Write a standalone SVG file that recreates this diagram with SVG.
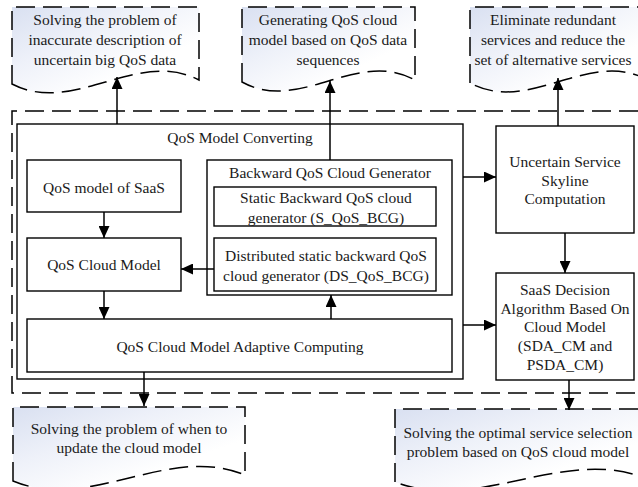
<svg xmlns="http://www.w3.org/2000/svg" width="638" height="487" viewBox="0 0 638 487">
<defs>
<linearGradient id="docfill" x1="0" y1="0" x2="1" y2="1">
<stop offset="0" stop-color="#d9e0f1"/>
<stop offset="0.35" stop-color="#eef1f9"/>
<stop offset="0.7" stop-color="#ffffff"/>
</linearGradient>
<marker id="arr" markerUnits="userSpaceOnUse" markerWidth="12" markerHeight="11" refX="12" refY="5.5" orient="auto">
<path d="M0,0 L12,5.5 L0,11 Z" fill="#000"/>
</marker>
<style>
text{font-family:"Liberation Serif","Times New Roman",serif;font-size:15.5px;fill:#1a1a1a;text-anchor:middle}
.doc{fill:url(#docfill);stroke:#000;stroke-width:1.5;stroke-dasharray:19 8}
.dash{fill:none;stroke:#000;stroke-width:1.5;stroke-dasharray:19 8}
.box{fill:#fff;stroke:#000;stroke-width:1.4}
.con{fill:none;stroke:#000;stroke-width:1.5;marker-end:url(#arr)}
.ln{fill:none;stroke:#000;stroke-width:1.5}
</style>
</defs>
<rect width="638" height="487" fill="#fff"/>

<g id="doc1">
<path class="doc" d="M12,84 V7 H199 V80 C137,48 74,116 12,84 Z"/>
<text x="105" y="25">Solving the problem of</text>
<text x="105" y="45">inaccurate description of</text>
<text x="105" y="65">uncertain big QoS data</text>
</g>
<g id="doc2">
<path class="doc" d="M242,82 V7 H415 V80 C357,48 300,114 242,82 Z"/>
<text x="328" y="25">Generating QoS cloud</text>
<text x="328" y="45">model based on QoS data</text>
<text x="328" y="65">sequences</text>
</g>
<g id="doc3">
<path class="doc" d="M470,83 V7 H648 V80 C589,48 529,115 470,83 Z"/>
<text x="553" y="25">Eliminate redundant</text>
<text x="553" y="45">services and reduce the</text>
<text x="553" y="65">set of alternative services</text>
</g>

<g id="region">
<path class="dash" d="M638,111 H12 V393 H638"/>
</g>

<g id="converting">
<rect class="box" x="17" y="124" width="446" height="255"/>
<text x="240" y="143">QoS Model Converting</text>
</g>
<g id="qos-model-saas">
<rect class="box" x="27" y="160" width="154" height="52"/>
<text x="104" y="193">QoS model of SaaS</text>
</g>
<g id="qos-cloud-model">
<rect class="box" x="27" y="238" width="154" height="53"/>
<text x="104" y="270">QoS Cloud Model</text>
</g>
<g id="backward-generator">
<rect class="box" x="207" y="160" width="245" height="135"/>
<text x="330" y="178">Backward QoS Cloud Generator</text>
</g>
<g id="static-bcg">
<rect class="box" x="214" y="187" width="222" height="39"/>
<text x="326" y="203">Static Backward QoS cloud</text>
<text x="326" y="223">generator (S_QoS_BCG)</text>
</g>
<g id="ds-bcg">
<rect class="box" x="214" y="238" width="222" height="53"/>
<text x="326" y="261">Distributed static backward QoS</text>
<text x="326" y="281">cloud generator (DS_QoS_BCG)</text>
</g>
<g id="adaptive">
<rect class="box" x="27" y="319" width="425" height="53"/>
<text x="240" y="352">QoS Cloud Model Adaptive Computing</text>
</g>
<g id="skyline">
<rect class="box" x="496" y="126" width="138" height="107"/>
<text x="565" y="167">Uncertain Service</text>
<text x="565" y="186">Skyline</text>
<text x="565" y="204">Computation</text>
</g>
<g id="saas-decision">
<rect class="box" x="496" y="273" width="138" height="107"/>
<text x="565" y="295">SaaS Decision</text>
<text x="565" y="314">Algorithm Based On</text>
<text x="565" y="332">Cloud Model</text>
<text x="565" y="351">(SDA_CM and</text>
<text x="565" y="370">PSDA_CM)</text>
</g>

<g id="doc4">
<path class="doc" d="M13,481 V407 H245 V475 C168,443 90,513 13,481 Z"/>
<text x="129" y="434">Solving the problem of when to</text>
<text x="129" y="453">update the cloud model</text>
</g>
<g id="doc5">
<path class="doc" d="M395,482 V409 H645 V478 C562,446 478,514 395,482 Z"/>
<text x="518" y="438">Solving the optimal service selection</text>
<text x="518" y="457">problem based on QoS cloud model</text>
</g>

<g id="connectors">
<line class="con" x1="117" y1="124" x2="117" y2="77"/>
<line class="con" x1="330" y1="160" x2="330" y2="81"/>
<line class="con" x1="558" y1="126" x2="558" y2="78"/>
<line class="con" x1="104" y1="212" x2="104" y2="238"/>
<line class="con" x1="214" y1="269" x2="181" y2="269"/>
<line class="con" x1="104" y1="291" x2="104" y2="319"/>
<line class="con" x1="331" y1="319" x2="331" y2="295"/>
<line class="con" x1="463" y1="177" x2="496" y2="177"/>
<line class="con" x1="463" y1="325" x2="496" y2="325"/>
<line class="con" x1="565" y1="233" x2="565" y2="273"/>
<line class="con" x1="144" y1="372" x2="144" y2="406"/>
<line class="con" x1="569" y1="380" x2="569" y2="410"/>
</g>
</svg>
